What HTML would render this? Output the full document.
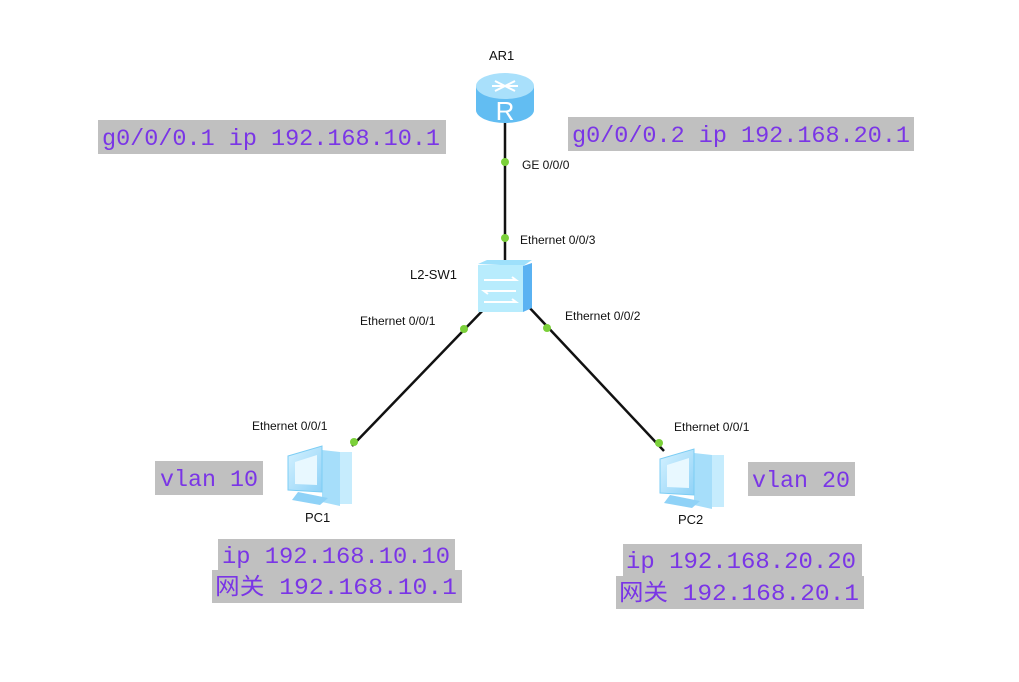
<!DOCTYPE html>
<html><head><meta charset="utf-8"><style>
html,body{margin:0;padding:0;background:#fff;}
svg{display:block;}
.m{font-family:"Liberation Mono","Noto Sans CJK SC",monospace;font-size:23px;fill:#7a35e6;}
.s{font-family:"Liberation Sans",sans-serif;font-size:12px;fill:#111;}
.l{font-family:"Liberation Sans",sans-serif;font-size:13px;fill:#111;}
</style></head><body>
<svg width="1019" height="682" viewBox="0 0 1019 682" xmlns="http://www.w3.org/2000/svg">
<defs>
<linearGradient id="pc" x1="0" y1="0" x2="1" y2="1"><stop offset="0" stop-color="#d6f2ff"/><stop offset="1" stop-color="#8fd2f7"/></linearGradient>
</defs>
<g stroke="#111" stroke-width="2.5">
<line x1="505" y1="122" x2="505" y2="262"/>
<line x1="488" y1="305" x2="352" y2="446"/>
<line x1="527" y1="305" x2="664" y2="451"/>
</g>
<g fill="#7bd03a">
<circle cx="505" cy="162" r="4"/><circle cx="505" cy="238" r="4"/>
<circle cx="464" cy="329" r="4"/><circle cx="354" cy="442" r="4"/>
<circle cx="547" cy="328" r="4"/><circle cx="659" cy="443" r="4"/>
</g>
<!-- router -->
<path d="M476 86 v24 a29 13 0 0 0 58 0 v-24 z" fill="#62bdf2"/>
<ellipse cx="505" cy="86" rx="29" ry="13" fill="#a9e0fb"/>
<g stroke="#fff" stroke-width="2" fill="none"><path d="M495 81 l20 10 M515 81 l-20 10 M492 86 h26"/></g>
<text x="505" y="120" text-anchor="middle" font-family="Liberation Sans,sans-serif" font-size="26" fill="#fff">R</text>
<!-- switch -->
<path d="M523 266 l9 -3 v45 l-9 4 z" fill="#5ab2f2"/>
<path d="M478 264 l9 -4 h45 l-9 6 z" fill="#9ee0fb"/>
<rect x="478" y="265" width="45" height="47" fill="#b8ecfd"/>
<g stroke="#fff" stroke-width="2" fill="none"><path d="M484 280 h32 l-4 -3 M516 291 h-32 l4 3 M484 302 h32 l-4 -3"/></g>
<!-- PCs -->
<g id="pc1">
<path d="M322 450 l18 2 v54 l-18 -4 z" fill="#a6defa"/>
<path d="M288 456 l34 -10 v46 l-34 -2 z" fill="url(#pc)" stroke="#7ccdf4"/>
<path d="M295 462 l22 -7 v30 l-22 -1 z" fill="#e8f8ff"/>
<path d="M298 492 l30 6 l-8 7 l-28 -5 z" fill="#8fd2f7"/>
<rect x="340" y="452" width="12" height="52" fill="#c6ecfd"/>
</g>
<use href="#pc1" transform="translate(372,3)"/>
<text class="l" x="489" y="60">AR1</text>
<text class="s" x="522" y="169">GE 0/0/0</text>
<text class="s" x="520" y="244">Ethernet 0/0/3</text>
<text class="l" x="410" y="279">L2-SW1</text>
<text class="s" x="360" y="325">Ethernet 0/0/1</text>
<text class="s" x="565" y="320">Ethernet 0/0/2</text>
<text class="s" x="252" y="430">Ethernet 0/0/1</text>
<text class="s" x="674" y="431">Ethernet 0/0/1</text>
<text class="l" x="305" y="522">PC1</text>
<text class="l" x="678" y="524">PC2</text>
<g fill="#c0c0c0">
<rect x="98" y="120" width="348" height="34"/>
<rect x="568" y="117" width="346" height="34"/>
<rect x="155" y="461" width="108" height="34"/>
<rect x="748" y="462" width="107" height="34"/>
<rect x="218" y="539" width="237" height="32"/>
<rect x="212" y="570" width="250" height="33"/>
<rect x="623" y="544" width="239" height="33"/>
<rect x="616" y="576" width="248" height="33"/>
</g>
<text class="m" x="102" y="145" textLength="338" lengthAdjust="spacingAndGlyphs">g0/0/0.1 ip 192.168.10.1</text>
<text class="m" x="572" y="142" textLength="338" lengthAdjust="spacingAndGlyphs">g0/0/0.2 ip 192.168.20.1</text>
<text class="m" x="160" y="486" textLength="98" lengthAdjust="spacingAndGlyphs">vlan 10</text>
<text class="m" x="752" y="487" textLength="98" lengthAdjust="spacingAndGlyphs">vlan 20</text>
<text class="m" x="222" y="563" textLength="228" lengthAdjust="spacingAndGlyphs">ip 192.168.10.10</text>
<text class="m" x="215" y="594" textLength="242" lengthAdjust="spacingAndGlyphs">网关 192.168.10.1</text>
<text class="m" x="626" y="568" textLength="230" lengthAdjust="spacingAndGlyphs">ip 192.168.20.20</text>
<text class="m" x="619" y="600" textLength="240" lengthAdjust="spacingAndGlyphs">网关 192.168.20.1</text>
</svg>
</body></html>
